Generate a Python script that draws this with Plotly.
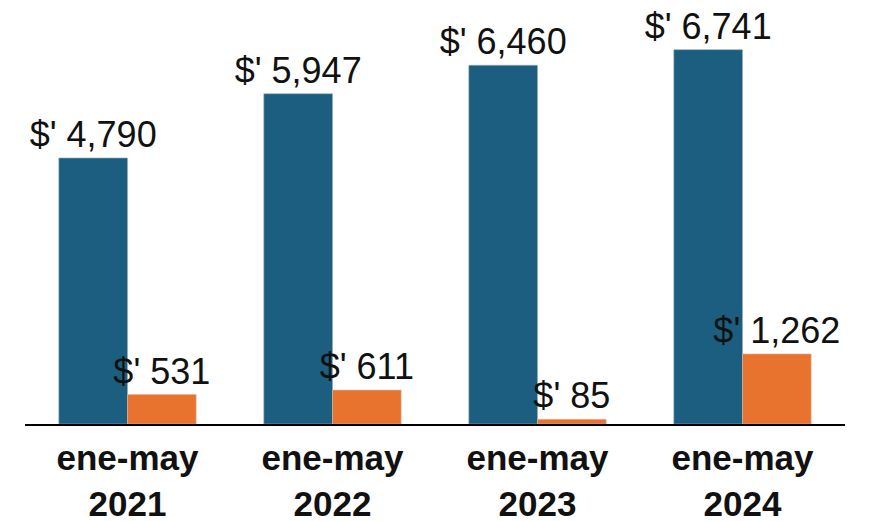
import plotly.graph_objects as go

categories = ["ene-may<br>2021", "ene-may<br>2022", "ene-may<br>2023", "ene-may<br>2024"]
series_a = [4790, 5947, 6460, 6741]
series_b = [531, 611, 85, 1262]
color_a = "#1b5e80"
color_b = "#e8732f"

def fmt(v):
    return "$' " + f"{v:,}"

fig = go.Figure()
fig.add_trace(go.Bar(x=categories, y=series_a, marker=dict(color=color_a, line=dict(color="#9aa9b3", width=0.6)),
                     text=[fmt(v) for v in series_a], textposition="outside", cliponaxis=False,
                     constraintext="none",
                     textfont=dict(family="Liberation Sans, Arial", size=36, color="#111111")))
fig.add_trace(go.Bar(x=categories, y=series_b, marker=dict(color=color_b, line=dict(color="#d9b8a5", width=0.6)),
                     text=[fmt(v) for v in series_b], textposition="outside", cliponaxis=False,
                     constraintext="none",
                     textfont=dict(family="Liberation Sans, Arial", size=36, color="#111111")))

fig.update_layout(
    width=879, height=521,
    margin=dict(l=25, r=34, t=0, b=97, autoexpand=False),
    barmode="group", bargap=0.33, bargroupgap=0,
    showlegend=False,
    plot_bgcolor="white", paper_bgcolor="white",
)
fig.update_xaxes(showline=True, linecolor="black", linewidth=2, showgrid=False, ticks="",
                 range=[-0.5, 3.5], automargin=False,
                 tickfont=dict(family="Liberation Sans, Arial", size=35, color="#111111"),
                 ticklabelstandoff=2, tickprefix="<b>", ticksuffix="</b>")
fig.update_yaxes(visible=False, range=[0, 7635], showgrid=False, zeroline=False)

fig.write_html("out.html", config={"displayModeBar": False, "staticPlot": True},
               post_script="document.body.style.margin='0';document.body.style.overflow='hidden';")
